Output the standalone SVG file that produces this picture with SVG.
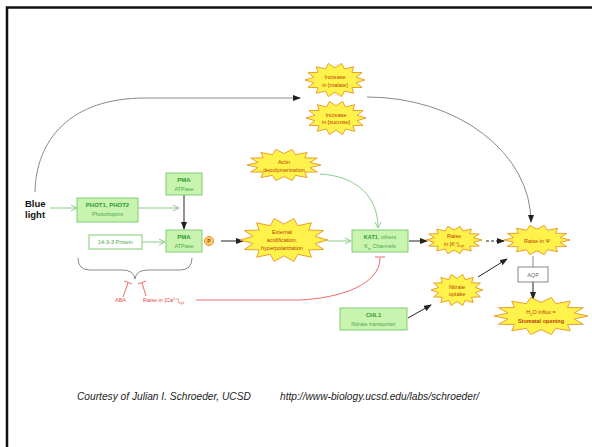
<svg xmlns="http://www.w3.org/2000/svg" xmlns:xlink="http://www.w3.org/1999/xlink" width="592" height="447" viewBox="0 0 592 447">
<style>
text{font-family:"Liberation Sans",Arial,sans-serif;}
.box{fill:#c8f4b0;stroke:#80cc74;stroke-width:1;}
.wbox{fill:#ffffff;stroke:#80cc74;stroke-width:1;}
.gbox{fill:#ffffff;stroke:#888888;stroke-width:1;}
.bt{font-size:6px;font-weight:bold;fill:#2f9a2f;text-anchor:middle;}
.lt{font-size:5.5px;fill:#4aa84a;text-anchor:middle;}
.st{font-size:5.5px;fill:#b8400a;text-anchor:middle;}
.blk{fill:none;stroke:#222;stroke-width:1;}
.gry{fill:none;stroke:#8a8a8a;stroke-width:1;}
.grn{fill:none;stroke:#8ccc8c;stroke-width:1;}
.red{fill:none;stroke:#f06a6a;stroke-width:1;}
.rt{font-size:5.5px;fill:#e84848;}
.foot{font-size:10.2px;font-style:italic;fill:#222;}
</style>
<defs>
<polygon id="star" points="1,0 0.702,0.16 0.901,0.434 0.563,0.449 0.623,0.782 0.312,0.649 0.222,0.975 0,0.72 -0.222,0.975 -0.312,0.649 -0.623,0.782 -0.563,0.449 -0.901,0.434 -0.702,0.16 -1,0 -0.702,-0.16 -0.901,-0.434 -0.563,-0.449 -0.623,-0.782 -0.312,-0.649 -0.222,-0.975 0,-0.72 0.222,-0.975 0.312,-0.649 0.623,-0.782 0.563,-0.449 0.901,-0.434 0.702,-0.16" fill="#fff24a" stroke="#e8a030" stroke-width="1" vector-effect="non-scaling-stroke"/>
<marker id="ab" markerUnits="userSpaceOnUse" markerWidth="8" markerHeight="6" refX="7" refY="3" orient="auto"><path d="M0,0 L8,3 L0,6 z" fill="#222"/></marker>
<marker id="ag" markerUnits="userSpaceOnUse" markerWidth="8" markerHeight="8" refX="7" refY="4" orient="auto"><path d="M1,1 L7,4 L1,7" fill="none" stroke="#8ccc8c" stroke-width="1"/></marker>
</defs>
<rect width="592" height="447" fill="#ffffff"/>
<path d="M7,447 V7.5 H592" fill="none" stroke="#111" stroke-width="2.5"/>

<g id="connectors">
<path class="gry" d="M35,192 C36,140 70,98 145,98 L300,98" marker-end="url(#ab)" stroke="#777"/>
<path class="gry" d="M367,97 A164,125 0 0 1 531,222" marker-end="url(#ab)" stroke="#777"/>
<path class="grn" d="M50,208 H77" marker-end="url(#ag)"/>
<path class="grn" d="M138,208 H179" marker-end="url(#ag)"/>
<path class="blk" d="M184,195 V229" marker-end="url(#ab)"/>
<path class="grn" d="M142,242 H165" marker-end="url(#ag)"/>
<path class="blk" d="M221,241 H243" marker-end="url(#ab)"/>
<path class="grn" d="M320,174 C355,176 378,195 378,228" marker-end="url(#ag)"/>
<path class="grn" d="M328,241 H351" marker-end="url(#ag)"/>
<path class="blk" d="M409,241 H427" marker-end="url(#ab)"/>
<path class="blk" d="M486,241 H504" stroke-dasharray="3,2" marker-end="url(#ab)"/>
<path class="gry" d="M533,256 V267"/>
<path class="blk" d="M533,282 V299" marker-end="url(#ab)"/>
<path class="blk" d="M478,277 L507,259" marker-end="url(#ab)"/>
<path class="blk" d="M408,318 L431,305" marker-end="url(#ab)"/>
<path class="gry" d="M78,258 Q78,270 90,270 L122,270 Q134,270 135,279 Q136,270 148,270 L180,270 Q192,270 192,258"/>
<path class="red" d="M123,297 L128,283 M124,281 L132,284"/>
<path class="red" d="M146,296 L142,283 M138,284 L146,281"/>
<path class="red" d="M196,300 L300,300 C340,298 380,285 380,258 M375,257 H385"/>
</g>

<g id="bluelight">
<text x="25" y="207" font-size="9.5" font-weight="bold" fill="#111">Blue</text>
<text x="25" y="218" font-size="9.5" font-weight="bold" fill="#111">light</text>
</g>
<g id="phot">
<rect class="box" x="77" y="198" width="61" height="24"/>
<text class="bt" x="107.5" y="207">PHOT1, PHOT2</text>
<text class="lt" x="107.5" y="216">Phototropins</text>
</g>
<g id="pma-top">
<rect class="box" x="166" y="173" width="36" height="22"/>
<text class="bt" x="184" y="182">PMA</text>
<text class="lt" x="184" y="190.5">ATPase</text>
</g>
<g id="pma">
<rect class="box" x="166" y="230" width="36" height="22"/>
<text class="bt" x="184" y="239">PMA</text>
<text class="lt" x="184" y="247.5">ATPase</text>
</g>
<g id="p1433">
<rect class="wbox" x="89" y="235" width="53" height="14"/>
<text class="lt" x="115.5" y="244">14-3-3 Protein</text>
</g>
<g id="phospho">
<circle cx="209" cy="241" r="4.5" fill="#fcd070" stroke="#e09020" stroke-width="1"/>
<text x="209" y="243" font-size="5" font-weight="bold" fill="#a04000" text-anchor="middle">P</text>
</g>
<g id="malate">
<use xlink:href="#star" transform="translate(335,80) scale(30,17)"/>
<text class="st" x="335" y="79">Increase</text>
<text class="st" x="335" y="86.5">in [malate]</text>
</g>
<g id="sucrose">
<use xlink:href="#star" transform="translate(336,118) scale(30,17)"/>
<text class="st" x="336" y="116.5">Increase</text>
<text class="st" x="336" y="124">in [sucrose]</text>
</g>
<g id="actin">
<use xlink:href="#star" transform="translate(284,165) scale(37,16)"/>
<text class="st" x="284" y="164">Actin</text>
<text class="st" x="284" y="171.5">depolymerization</text>
</g>
<g id="external">
<use xlink:href="#star" transform="translate(284,240) scale(44,22)"/>
<text class="st" x="282" y="234">External</text>
<text class="st" x="282" y="242">acidification,</text>
<text class="st" x="282" y="249.5">hyperpolarization</text>
</g>
<g id="kat1">
<rect class="box" x="352" y="230" width="56" height="22"/>
<text x="380" y="239" font-size="5.5" fill="#4aa84a" text-anchor="middle"><tspan font-weight="bold" fill="#2f9a2f">KAT1</tspan>, others</text>
<text x="380" y="248" font-size="5.5" fill="#4aa84a" text-anchor="middle">K<tspan font-size="4" dy="1.5">in</tspan><tspan dy="-1.5"> Channels</tspan></text>
</g>
<g id="raisek">
<use xlink:href="#star" transform="translate(454,240) scale(28,14)"/>
<text class="st" x="454" y="238">Raise</text>
<text class="st" x="454" y="245.5">in [K<tspan font-size="4" dy="-2">+</tspan><tspan dy="2">]</tspan><tspan font-size="4" dy="1.5">cyt</tspan></text>
</g>
<g id="raisepsi">
<use xlink:href="#star" transform="translate(537,240) scale(33,15)"/>
<text class="st" x="537" y="242.5">Raise in Ψ</text>
</g>
<g id="aqp">
<rect class="gbox" x="518" y="267" width="30" height="15"/>
<text x="533" y="277" font-size="5.5" fill="#666" text-anchor="middle">AQP</text>
</g>
<g id="nitrate">
<use xlink:href="#star" transform="translate(457,290) scale(26,16)"/>
<text class="st" x="457" y="288.5">Nitrate</text>
<text class="st" x="457" y="295.5">uptake</text>
</g>
<g id="chl1">
<rect class="box" x="340" y="308" width="67" height="22"/>
<text class="bt" x="373.5" y="317">CHL1</text>
<text class="lt" x="373.5" y="326">Nitrate transporter</text>
</g>
<g id="h2o">
<use xlink:href="#star" transform="translate(541,316) scale(47,19)"/>
<text class="st" x="541" y="314">H<tspan font-size="4" dy="1.5">2</tspan><tspan dy="-1.5">O influx =</tspan></text>
<text class="st" x="541" y="322.5" font-weight="bold" fill="#a03000">Stomatal opening</text>
</g>
<g id="inhibitors">
<text class="rt" x="115" y="302">ABA</text>
<text class="rt" x="143" y="302">Raise in [Ca<tspan font-size="4" dy="-2">2+</tspan><tspan dy="2">]</tspan><tspan font-size="4" dy="1.5">cyt</tspan></text>
</g>
<g id="footer">
<text class="foot" x="77" y="400">Courtesy of Julian I. Schroeder, UCSD</text>
<text class="foot" x="280" y="400">http://www-biology.ucsd.edu/labs/schroeder/</text>
</g>
</svg>
